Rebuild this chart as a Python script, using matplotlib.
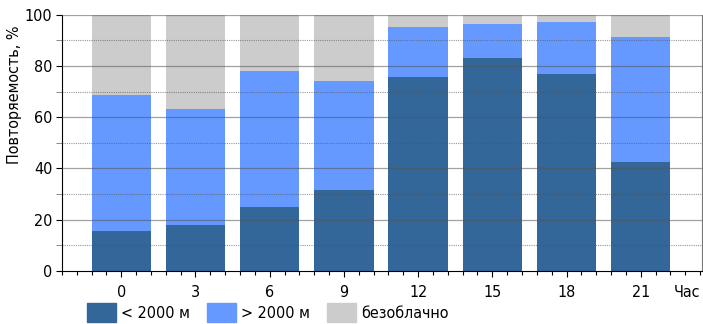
import numpy as np
import matplotlib
matplotlib.use("Agg")
import matplotlib.pyplot as plt
import matplotlib.patches as mpatches
from matplotlib.ticker import MultipleLocator
from matplotlib import font_manager
from matplotlib.ft2font import FT2Font

# hours of observation and cloud-base frequency, %
hours = ["0", "3", "6", "9", "12", "15", "18", "21"]
low_cloud = [15.6, 17.8, 25.1, 31.5, 75.6, 83.3, 77.0, 42.7]      # < 2000 m
total_cloud = [68.9, 63.4, 78.2, 74.2, 95.2, 96.5, 97.1, 91.3]    # top of blue segment
labels = ["< 2000 м", "> 2000 м", "безоблачно"]

high_cloud = [t - l for t, l in zip(total_cloud, low_cloud)]
clear_sky = [100 - t for t in total_cloud]

COLORS = ['#336699', '#6699FF', '#CCCCCC']


def narrow_cyrillic_font():
    """Find a condensed regular face that also has Cyrillic glyphs."""
    for f in sorted(font_manager.fontManager.ttflist, key=lambda f: f.fname):
        tag = (f.name + ' ' + f.fname).lower()
        if not ('narrow' in tag or 'condensed' in tag):
            continue
        if 'semi' in tag or 'extra' in tag or 'ultra' in tag:
            continue
        if f.style != 'normal' or f.weight not in (400, 'normal', 'regular'):
            continue
        try:
            ft = FT2Font(f.fname)
            if all(ft.get_char_index(ord(c)) for c in 'бжЧ0<'):
                return f.fname
        except Exception:
            pass
    return None


path = narrow_cyrillic_font()
if path:
    FP = font_manager.FontProperties(fname=path, size=11.5)
else:
    FP = font_manager.FontProperties(family='Liberation Sans', size=10.5)

fig = plt.figure(figsize=(7.03, 3.24), dpi=100)
ax = fig.add_axes([0.088, 0.164, 0.91, 0.79])

x = np.arange(len(hours))
w = 0.8
ax.bar(x, low_cloud, width=w, color=COLORS[0], linewidth=0, zorder=2)
ax.bar(x, high_cloud, width=w, bottom=low_cloud, color=COLORS[1], linewidth=0, zorder=2)
ax.bar(x, clear_sky, width=w, bottom=total_cloud, color=COLORS[2], linewidth=0, zorder=2)

# grid drawn over the bars, like the original
for yv in range(20, 101, 20):
    ax.axhline(yv, color='#555555', lw=0.9, alpha=0.55, zorder=3)
for yv in range(10, 100, 20):
    ax.axhline(yv, color='#555555', lw=0.8, alpha=0.6, ls=(0, (1, 1)), zorder=3)

ax.set_xlim(-0.8, 7.82)
ax.set_ylim(0, 100)
ax.set_xticks(x)
ax.set_xticklabels(hours)
ax.xaxis.set_minor_locator(MultipleLocator(0.2))
ax.yaxis.set_major_locator(MultipleLocator(20))
ax.yaxis.set_minor_locator(MultipleLocator(10))
ax.tick_params(axis='both', length=4, width=0.8, direction='out', pad=6)
ax.tick_params(axis='x', which='minor', length=3, width=0.8)
ax.tick_params(axis='y', which='minor', length=4, width=0.6, color='#777777')
ax.tick_params(axis='y', pad=3)
for lbl in ax.get_xticklabels() + ax.get_yticklabels():
    lbl.set_fontproperties(FP)
ax.annotate("Час", xy=(7.63, 0), xycoords=ax.get_xaxis_transform(),
            xytext=(0, -10), textcoords='offset points', ha='center', va='top',
            fontproperties=FP)

ax.spines['top'].set_visible(False)
ax.spines['right'].set_color('#777777')
ax.spines['left'].set_color('black')
ax.spines['bottom'].set_color('black')

ax.set_ylabel("Повторяемость, %", fontproperties=FP, labelpad=3)
ax.yaxis.set_label_coords(-0.062, 0.69)

handles = [mpatches.Patch(color=c, label=l) for c, l in zip(COLORS, labels)]
fig.legend(handles=handles, loc='center left', bbox_to_anchor=(0.113, 0.035), ncol=3,
           frameon=False, prop=FP, handlelength=1.8, handleheight=1.5,
           handletextpad=0.3, columnspacing=1.1, borderpad=0)

fig.savefig("out.png", dpi=100)
